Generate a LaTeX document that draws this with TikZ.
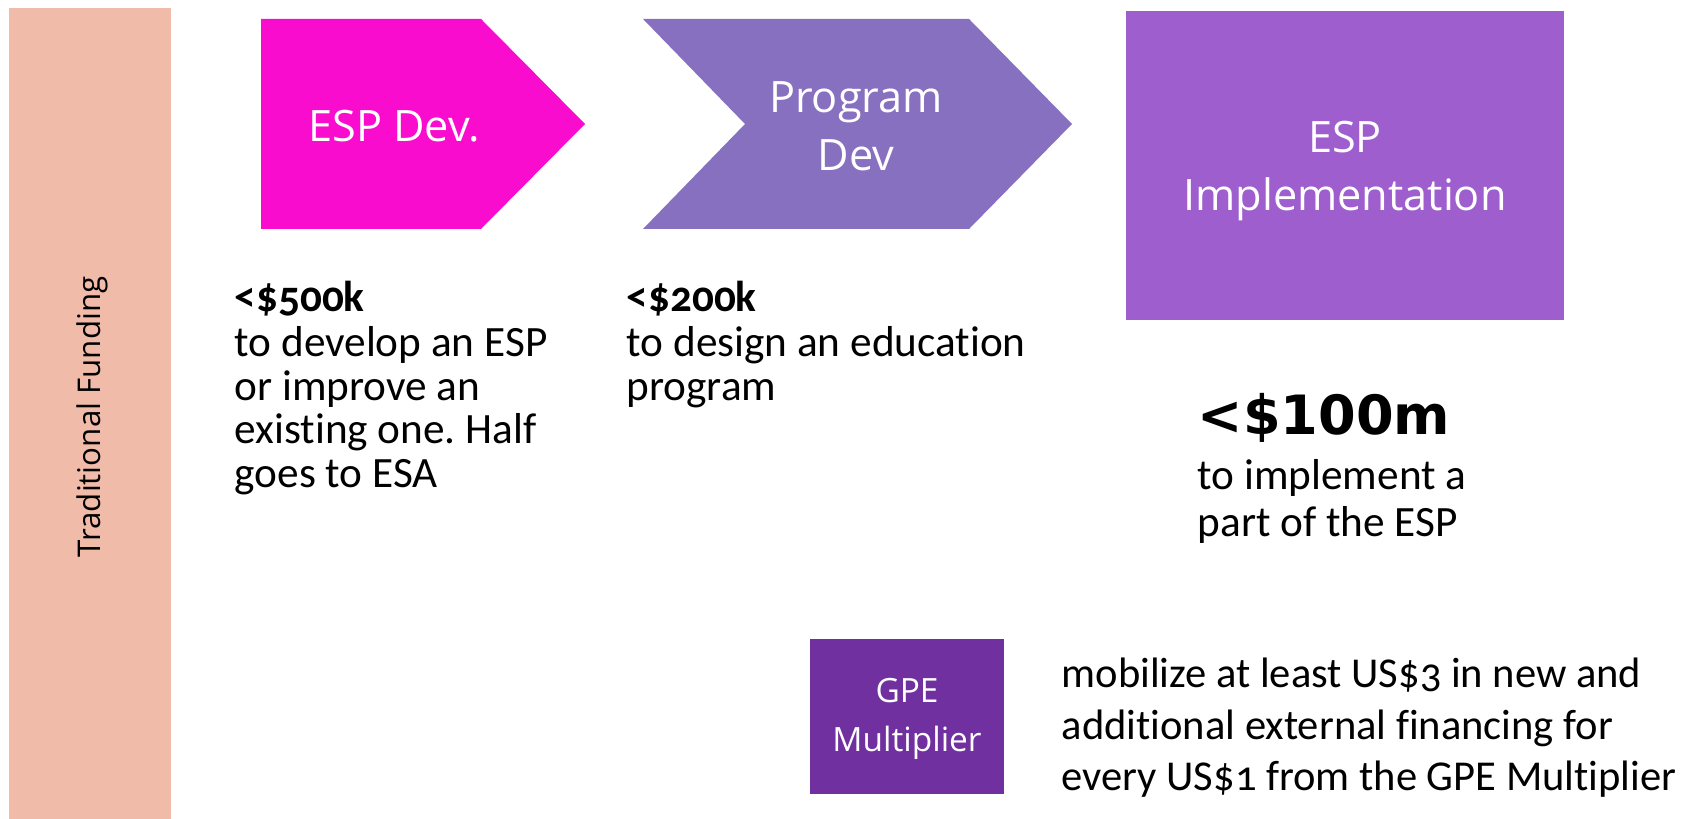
\documentclass[tikz,border=0pt]{standalone}
\usepackage{fontspec}
\setmainfont{Carlito}[Numbers=OldStyle, Ligatures=NoCommon]
\newfontfamily\labelfont{Open Sans}
\newfontfamily\bigfont{DejaVu Sans}
\usetikzlibrary{calc}
\frenchspacing
\definecolor{tan}{RGB}{241, 187, 169}
\definecolor{espdev}{RGB}{250, 12, 206}
\definecolor{progdev}{RGB}{136, 112, 192}
\definecolor{impl}{RGB}{158, 94, 206}
\definecolor{gpe}{RGB}{112, 48, 160}
\tikzset{
  steplabel/.style={text=white, align=center, inner sep=0pt,
    font=\labelfont\fontsize{12.3}{16.5}\selectfont},
  bodytext/.style={anchor=base west, inner sep=0pt,
    font=\fontsize{12.3}{12.3}\selectfont},
  amount/.style={bodytext, font=\fontsize{12.3}{12.3}\selectfont\bfseries}
}
\begin{document}
\begin{tikzpicture}[x=0.01cm, y=-0.01cm]

  \useasboundingbox (0, 0) rectangle (1701, 819);

  \pgfmathsetmacro{\ytop}{19}
  \pgfmathsetmacro{\ybot}{229}
  \pgfmathsetmacro{\ymid}{124}

  \fill[tan] (9, 8) rectangle (171, 819);
  \node[rotate=90, inner sep=0pt, font=\labelfont\fontsize{8.9}{10}\selectfont] (trad) at (92, 417) {Traditional Funding};

  \fill[espdev] (261, \ytop) -- (481, \ytop) -- (585, \ymid) -- (481, \ybot) -- (261, \ybot) -- cycle;
  \fill[progdev] (643, \ytop) -- (969, \ytop) -- (1072, \ymid) -- (969, \ybot) -- (643, \ybot) -- (745, \ymid) -- cycle;
  \fill[impl] (1126, 11) rectangle (1564, 320);
  \fill[gpe] (810, 639) rectangle (1004, 794);

  \node[steplabel] (espdevlabel) at (394, 126) {ESP Dev.};
  \node[steplabel] (progdevlabel) at (856, 126) {Program\\Dev};
  \node[steplabel] (impllabel) at (1345, 171) {ESP\\Implementation};
  \node[steplabel, font=\labelfont\fontsize{9.5}{14}\selectfont] (gpelabel) at (907, 719) {GPE\\Multiplier};

  \node[amount] (dev0) at (234, 312) {<\$500k};
  \foreach \txt [count=\n] in {to develop an ESP, or improve an, existing one. Half, goes to ESA} {
    \node[bodytext] (dev\n) at (234, {313 + 43.6 * \n}) {\txt};
  }

  \node[amount] (prog0) at (626, 312) {<\$200k};
  \foreach \txt [count=\n] in {to design an education, program} {
    \node[bodytext] (prog\n) at (626, {313 + 43.6 * \n}) {\txt};
  }

  \node[bodytext, font=\bigfont\bfseries\fontsize{15.4}{16}\selectfont] (impl0) at (1197, 435) {<\$100m};
  \foreach \txt [count=\n] in {to implement a, part of the ESP} {
    \node[bodytext] (impl\n) at (1197, {442 + 47.5 * \n}) {\txt};
  }

  \foreach \txt [count=\n] in {mobilize at least US\$3 in new and, additional external financing for, every US\$1 from the GPE Multiplier} {
    \node[bodytext, font=\fontsize{12.1}{14.6}\selectfont] (gpe\n) at (1061, {636 + 51.5 * \n}) {\txt};
  }

\end{tikzpicture}
\end{document}
